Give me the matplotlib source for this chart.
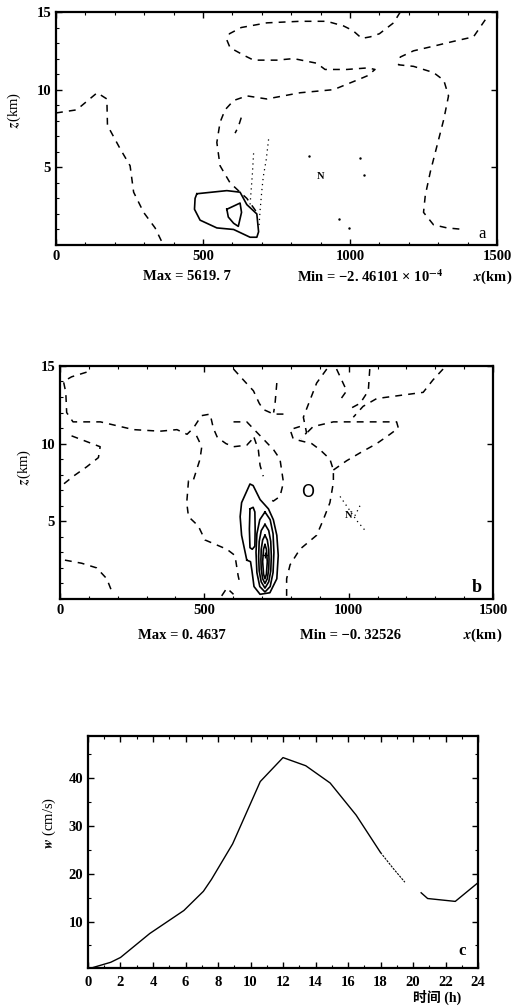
"""
Three-panel figure: two x-z contour sections (a, b) and a w time series (c).
Contour lines are traced by hand from the scanned figure as (x, z) pairs.
"""

import numpy as np
import matplotlib.pyplot as plt
from matplotlib.ticker import MultipleLocator

plt.rcParams["font.family"] = ["Liberation Serif", "Noto Sans CJK SC"]
plt.rcParams["font.weight"] = "bold"
plt.rcParams["mathtext.fontset"] = "stix"

# ---------------- panel a: traced contours (x km, z km) ----------------
a_dash_left = [(0, 8.5), (70, 8.7), (140, 9.8), (173, 9.4), (175, 7.7), (218, 6.2),
               (252, 5.1), (264, 3.4), (298, 2.1), (337, 1.1), (360, 0.2)]
a_dash_loop = [(1171, 15.0), (1148, 14.3), (1100, 13.6), (1069, 13.4), (1040, 13.3),
               (1010, 13.8), (978, 14.1), (921, 14.4), (830, 14.4), (717, 14.3),
               (630, 14.0), (590, 13.6), (581, 13.2), (592, 12.7), (640, 12.2),
               (672, 11.9), (751, 11.9), (808, 12.0), (887, 11.7), (915, 11.3),
               (989, 11.3), (1060, 11.4), (1085, 11.3), (1060, 10.9), (1035, 10.7),
               (944, 10.0), (830, 9.8), (717, 9.4), (649, 9.6), (604, 9.3), (575, 8.7),
               (558, 7.9), (547, 6.6), (558, 5.1), (592, 4.0), (626, 3.4), (649, 3.0),
               (683, 2.1)]
a_dash_right = [(1460, 14.5), (1420, 13.4), (1350, 13.1), (1284, 12.8), (1216, 12.5),
                (1171, 12.1), (1165, 11.6), (1216, 11.5), (1284, 11.1), (1319, 10.6),
                (1335, 9.6), (1319, 8.1), (1296, 6.4), (1273, 4.7), (1256, 3.2),
                (1250, 2.1), (1284, 1.3), (1330, 1.1), (1387, 1.0)]
a_dash_small = [(630, 8.2), (620, 7.6), (609, 7.2)]
a_dot_1 = [(723, 6.8), (715, 5.5), (705, 4.4), (700, 3.5), (694, 2.2), (690, 1.1)]
a_dot_2 = [(672, 5.9), (668, 4.6), (664, 3.6), (660, 2.6)]
a_dot_pts = [(859, 5.7), (1035, 5.6), (1046, 4.5), (961, 1.7), (995, 1.1)]
a_solid_outer = [(479, 3.3), (530, 3.4), (581, 3.5), (626, 3.4), (649, 2.6), (683, 2.0),
                 (689, 0.85), (683, 0.5), (660, 0.5), (604, 1.0), (547, 1.1),
                 (490, 1.6), (471, 2.3), (473, 3.0), (479, 3.3)]
a_solid_inner = [(581, 2.3), (626, 2.7), (631, 2.1), (620, 1.2), (604, 1.4),
                 (586, 1.8), (581, 2.3)]

# ---------------- panel b: traced contours ----------------
b_dash_top_left = [(92, 14.6), (40, 14.3), (12, 14.0), (20, 13.3), (23, 12.0),
                   (45, 11.4), (140, 11.4), (255, 10.9), (347, 10.8), (405, 10.9),
                   (440, 10.6), (462, 11.0), (490, 11.8), (520, 11.9), (531, 11.0),
                   (545, 10.4), (575, 10.0), (601, 9.8), (647, 9.9), (672, 10.4)]
b_dash_mid_left = [(40, 10.5), (139, 9.8), (133, 9.1), (92, 8.5), (46, 7.9), (6, 7.3)]
b_dash_low_left = [(17, 2.5), (75, 2.3), (127, 2.0), (162, 1.3), (179, 0.5)]
b_dash_centre = [(473, 10.5), (491, 9.8), (485, 9.0), (461, 7.6), (445, 7.6),
                 (439, 6.2), (445, 5.3), (479, 4.7), (502, 3.8), (540, 3.5),
                 (578, 3.2), (606, 2.8), (617, 1.5), (623, 1.0)]
b_dash_bottom = [(560, 0.2), (578, 0.7), (601, 0.3)]
b_dash_hook = [(601, 11.4), (647, 11.4), (704, 10.3), (740, 9.6), (762, 9.0),
               (774, 7.5), (762, 6.6), (739, 6.3), (722, 6.5)]
b_dash_inner = [(672, 10.4), (687, 9.6), (693, 8.6), (704, 7.9)]
b_dash_right = [(785, 0.2), (785, 1.3), (797, 2.2), (831, 3.2), (889, 4.1), (912, 5.1),
                (935, 6.2), (947, 7.5), (947, 8.3), (935, 9.0), (901, 9.6), (872, 10.0),
                (808, 10.3), (797, 10.9), (831, 11.1)]
b_dash_far = [(947, 8.3), (993, 8.9), (1039, 9.4), (1097, 10.0), (1143, 10.6),
              (1172, 11.0), (1166, 11.4), (1062, 11.4), (947, 11.4), (877, 11.1),
              (850, 10.6)]
b_dash_top_right = [(1327, 14.8), (1292, 14.1), (1258, 13.3), (1177, 13.1),
                    (1097, 12.9), (1050, 12.4), (1016, 11.7)]
b_dash_top_1 = [(601, 14.8), (640, 14.0), (670, 13.4), (690, 12.6), (704, 12.2),
                (740, 11.9), (774, 11.9)]
b_dash_top_2 = [(751, 13.9), (745, 12.6), (740, 12.0)]
b_dash_top_3 = [(924, 14.8), (889, 13.9), (866, 12.8), (843, 11.7), (854, 10.7),
                (835, 10.3)]
b_dash_top_4 = [(1073, 14.8), (1068, 13.4), (1040, 12.6), (1000, 12.2)]
b_dash_top_5 = [(958, 14.8), (993, 13.4), (970, 12.8)]
b_dot_1 = [(970, 6.6), (1000, 5.8), (1030, 5.0), (1062, 4.3)]
b_dot_2 = [(1039, 6.0), (1020, 5.3)]
b_solid_outer = [(647, 2.5), (629, 4.1), (624, 5.3), (629, 6.2), (658, 7.4), (669, 7.3),
                 (693, 6.4), (722, 5.8), (739, 5.1), (751, 4.1), (756, 2.8),
                 (751, 1.3), (727, 0.4), (693, 0.3), (672, 0.8), (665, 1.8),
                 (660, 2.4), (647, 2.5)]
b_solid_thin = [(658, 5.8), (669, 5.9), (675, 5.6), (676, 4.5), (675, 3.4), (666, 3.2),
                (658, 3.3), (656, 4.5), (658, 5.8)]
b_ring_1 = [(710, 5.6), (728, 5.1), (738, 4.2), (741, 3.0), (738, 1.7), (728, 0.8),
            (710, 0.45), (692, 0.8), (682, 1.7), (679, 3.0), (682, 4.2), (692, 5.1),
            (710, 5.6)]
b_ring_2 = [(710, 4.8), (723, 4.4), (730, 3.7), (732, 2.75), (730, 1.8), (723, 1.1),
            (710, 0.7), (697, 1.1), (690, 1.8), (688, 2.75), (690, 3.7), (697, 4.4),
            (710, 4.8)]
b_ring_3 = [(710, 4.1), (718, 3.8), (723, 3.2), (724, 2.55), (723, 1.9), (718, 1.3),
            (710, 1.0), (702, 1.3), (697, 1.9), (696, 2.55), (697, 3.2), (702, 3.8),
            (710, 4.1)]
b_ring_4 = [(710, 3.5), (715, 3.2), (718, 2.4), (715, 1.6), (710, 1.3), (705, 1.6),
            (702, 2.4), (705, 3.2), (710, 3.5)]
b_centre = (710, 2.8)

# ---------------- panel c: w (cm/s) against time (h) ----------------
w_time = [0, 1.4, 2.0, 3.8, 5.9, 7.1, 7.6, 8.9, 10.6, 12.0, 13.4, 14.9, 16.5, 18.0]
w_vals = [0.1, 1.5, 2.5, 7.5, 12.3, 16.3, 18.8, 26.2, 39.2, 44.2, 42.5, 38.9, 32.2, 24.4]
w_faint_time = [18.0, 18.8, 19.5]
w_faint_vals = [24.4, 21.0, 18.2]
w_end_time = [20.5, 20.9, 22.6, 24.0]
w_end_vals = [16.0, 14.8, 14.2, 18.1]

DASH = (0, (4.5, 4))
TICK_FS = 10.5


def draw(ax, pts, **kw):
    arr = np.array(pts, dtype=float)
    ax.plot(arr[:, 0], arr[:, 1], color="black", **kw)


def style_section(ax):
    ax.set_xlim(0, 1500)
    ax.set_ylim(0, 15)
    ax.xaxis.set_major_locator(MultipleLocator(500))
    ax.xaxis.set_minor_locator(MultipleLocator(100))
    ax.yaxis.set_minor_locator(MultipleLocator(1))
    ax.set_yticks([5, 10, 15])
    ax.tick_params(which="both", direction="in", top=True, right=True,
                   labelsize=TICK_FS)
    ax.tick_params(which="major", length=4, width=1)
    ax.tick_params(which="minor", length=2.5, width=0.8, right=False)
    for sp in ax.spines.values():
        sp.set_linewidth(1.6)


fig = plt.figure(figsize=(5.21, 10.07), dpi=100)

# ---- panel a ----
ax_a = fig.add_axes([0.1075, 0.7567, 0.8465, 0.2314])
for c in (a_dash_left, a_dash_loop, a_dash_right, a_dash_small):
    draw(ax_a, c, lw=1.1, linestyle=DASH)
for c in (a_dot_1, a_dot_2):
    draw(ax_a, c, lw=0.9, linestyle=(0, (1, 3)))
pts = np.array(a_dot_pts)
ax_a.plot(pts[:, 0], pts[:, 1], "k.", ms=1.5)
draw(ax_a, a_solid_outer, lw=1.2)
draw(ax_a, a_solid_inner, lw=1.2)
ax_a.text(900, 4.4, "N", fontsize=7.5, ha="center", va="center")
ax_a.text(0.966, 0.047, "a", transform=ax_a.transAxes, fontsize=12,
          fontweight="normal", ha="center", va="center")
style_section(ax_a)
ax_a.set_ylabel("$z$(km)", fontsize=10.5)
ax_a.yaxis.set_label_coords(-0.075, 0.58)
ax_a.text(0.297, -0.137, "Max = 5619. 7", transform=ax_a.transAxes,
          fontsize=10.5, ha="center", va="center")
ax_a.text(0.712, -0.137, "Min = \u22122. 46101 \u00d7 10$^{-4}$", transform=ax_a.transAxes,
          fontsize=10.5, ha="center", va="center")
ax_a.text(0.991, -0.137, "$x$(km)", transform=ax_a.transAxes,
          fontsize=10.5, ha="center", va="center")

# ---- panel b ----
ax_b = fig.add_axes([0.1152, 0.4052, 0.8311, 0.2314])
for c in (b_dash_top_left, b_dash_mid_left, b_dash_low_left, b_dash_centre,
          b_dash_bottom, b_dash_hook, b_dash_inner, b_dash_right, b_dash_far,
          b_dash_top_right, b_dash_top_1, b_dash_top_2, b_dash_top_3,
          b_dash_top_4, b_dash_top_5):
    draw(ax_b, c, lw=1.1, linestyle=DASH)
for c in (b_dot_1, b_dot_2):
    draw(ax_b, c, lw=0.9, linestyle=(0, (1, 3)))
for c in (b_solid_outer, b_solid_thin, b_ring_1, b_ring_2, b_ring_3, b_ring_4):
    draw(ax_b, c, lw=1.2)
ax_b.plot(*b_centre, marker="+", color="black", ms=4, mew=1)
ax_b.text(859, 6.9, "O", fontsize=12, fontweight="normal", ha="center", va="center",
          family="DejaVu Sans")
ax_b.text(1001, 5.4, "N", fontsize=7.5, ha="center", va="center")
ax_b.text(0.962, 0.05, "b", transform=ax_b.transAxes, fontsize=13,
          ha="center", va="center")
style_section(ax_b)
ax_b.set_ylabel("$z$(km)", fontsize=10.5)
ax_b.yaxis.set_label_coords(-0.062, 0.567)
ax_b.text(0.282, -0.155, "Max = 0. 4637", transform=ax_b.transAxes,
          fontsize=10.5, ha="center", va="center")
ax_b.text(0.67, -0.155, "Min = \u22120. 32526", transform=ax_b.transAxes,
          fontsize=10.5, ha="center", va="center")
ax_b.text(0.977, -0.155, "$x$(km)", transform=ax_b.transAxes,
          fontsize=10.5, ha="center", va="center")

# ---- panel c ----
ax_c = fig.add_axes([0.1689, 0.0387, 0.7486, 0.2304])
ax_c.plot(w_time, w_vals, color="black", lw=1.0)
ax_c.plot(w_faint_time, w_faint_vals, color="black", lw=0.8, linestyle=(0, (2, 1)))
ax_c.plot(w_end_time, w_end_vals, color="black", lw=1.0)
ax_c.set_xlim(0, 24)
ax_c.set_ylim(0.3, 48.7)
ax_c.set_xticks(np.arange(0, 25, 2))
ax_c.set_yticks([10, 20, 30, 40])
ax_c.xaxis.set_minor_locator(MultipleLocator(1))
ax_c.yaxis.set_minor_locator(MultipleLocator(5))
ax_c.tick_params(which="both", direction="in", top=True, right=True,
                 labelsize=TICK_FS)
ax_c.tick_params(which="major", length=4, width=1)
ax_c.tick_params(which="minor", length=2.5, width=0.8)
ax_c.tick_params(axis="x", which="major", pad=6)
for sp in ax_c.spines.values():
    sp.set_linewidth(1.6)
ax_c.text(0.958, 0.075, "c", transform=ax_c.transAxes, fontsize=12,
          ha="center", va="center")
ax_c.set_ylabel("$w$ (cm/s)", fontsize=10.5)
ax_c.yaxis.set_label_coords(-0.077, 0.625)
ax_c.text(0.895, -0.125, "时间 (h)", transform=ax_c.transAxes,
          fontsize=10, ha="center", va="center")

fig.savefig("out.png", dpi=100)
